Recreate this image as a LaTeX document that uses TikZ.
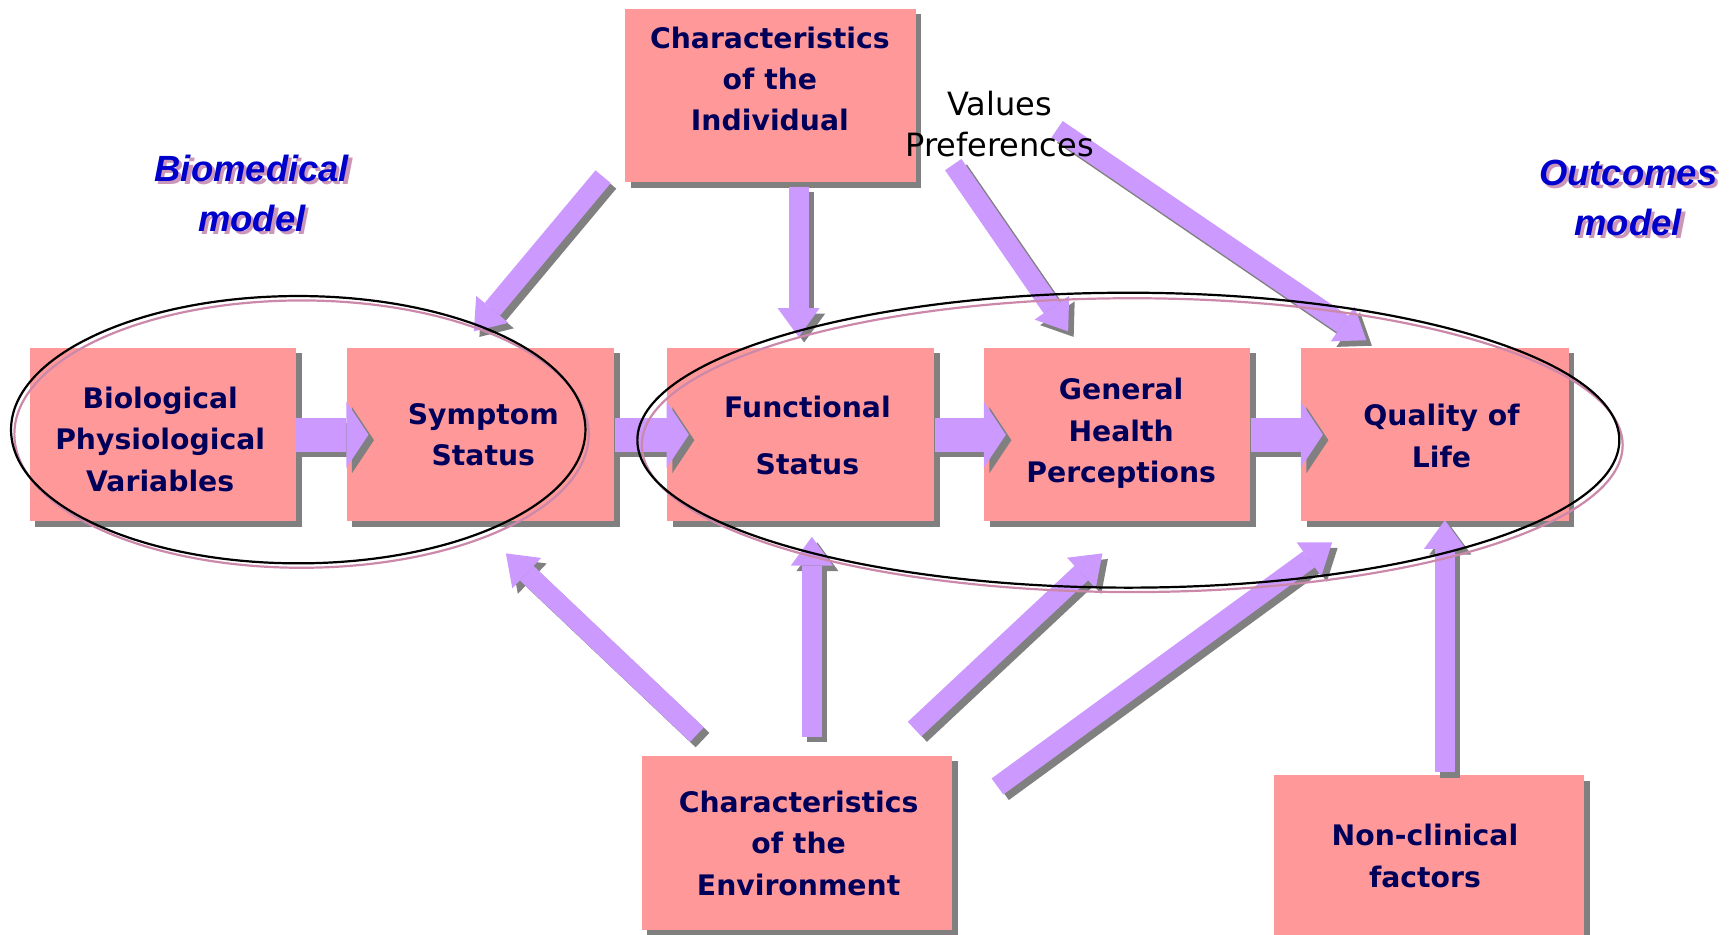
\documentclass[tikz,border=0pt]{standalone}
\usepackage{fontspec}
\setmainfont{DejaVu Sans}
\newfontfamily\arialfont{Liberation Sans}
\usetikzlibrary{arrows.meta,shadows,calc}
\definecolor{boxpink}{RGB}{255,153,153}
\definecolor{shadowgray}{RGB}{128,128,128}
\definecolor{arrowpurple}{RGB}{204,153,255}
\definecolor{navy}{RGB}{0,0,90}
\definecolor{modelblue}{RGB}{0,0,204}
\definecolor{modelshadow}{RGB}{204,150,185}
\definecolor{ellpink}{RGB}{204,136,170}
\tikzset{
  box/.style={fill=boxpink, draw=none, inner sep=0pt,
    drop shadow={shadow xshift=2.5pt, shadow yshift=-2.5pt, fill=shadowgray, opacity=1}},
  boxtext/.style={text=navy, font=\bfseries\fontsize{12.8}{18.75}\selectfont, align=center, inner sep=0pt},
  diagarrow/.style={line width=9pt, arrowpurple, -{Triangle[length=13pt,width=19pt,line width=0pt]}},
  hzarrow/.style={line width=15.5pt, arrowpurple, -{Triangle[length=10pt,width=30pt,line width=0pt]}},
  modeltext/.style={font=\arialfont\bfseries\itshape\fontsize{16.5}{22.5}\selectfont, align=center, inner sep=0pt},
}
\newcommand\myblockarrow[3]{%
  \begin{scope}[transform canvas={xshift=2.5pt,yshift=-2.5pt}]
    \draw[#1, shadowgray] (#2) -- (#3);
  \end{scope}
  \draw[#1] (#2) -- (#3);}
\begin{document}
\begin{tikzpicture}[x=0.5pt,y=-0.5pt]
\useasboundingbox (0,0) rectangle (1568,846);
\clip (0,0) rectangle (1568,846);

% boxes
\node[box, minimum width=131.5pt, minimum height=78.5pt] (ind) at (697.5,86.5) {};
\node[box, minimum width=120.5pt, minimum height=78.5pt] (bio) at (147.5,393.5) {};
\node[box, minimum width=121pt, minimum height=78.5pt] (sym) at (435,393.5) {};
\node[box, minimum width=121pt, minimum height=78.5pt] (fun) at (725,393.5) {};
\node[box, minimum width=120.5pt, minimum height=78.5pt] (gen) at (1011.5,393.5) {};
\node[box, minimum width=121pt, minimum height=78.5pt] (qol) at (1299,393.5) {};
\node[box, minimum width=140.5pt, minimum height=79pt] (env) at (721.5,763) {};
\node[box, minimum width=140.5pt, minimum height=80pt] (non) at (1293.5,782) {};

% arrow end points
\coordinate (Atail) at (546,160);  \coordinate (Atip) at (429,300);
\coordinate (Btail) at (723,169);  \coordinate (Btip) at (723,305);
\coordinate (Ctail) at (863,149);  \coordinate (Ctip) at (967,300);
\coordinate (Dtail) at (957,117);  \coordinate (Dtip) at (1237,308);
\coordinate (Etail) at (631,665);  \coordinate (Etip) at (458,501);
\coordinate (Ftail) at (735,667);  \coordinate (Ftip) at (735,486);
\coordinate (Gtail) at (828,660);  \coordinate (Gtip) at (998,501);
\coordinate (Htail) at (903,712);  \coordinate (Htip) at (1206,491);
\coordinate (Itail) at (1308,699); \coordinate (Itip) at (1308,471);
\coordinate (h1) at ($(sym.west)+(20,0)$);
\coordinate (h2) at ($(fun.west)+(20,0)$);
\coordinate (h3) at ($(gen.west)+(20,0)$);
\coordinate (h4) at ($(qol.west)+(20,0)$);

% horizontal arrows
\myblockarrow{hzarrow}{bio.east}{h1}
\myblockarrow{hzarrow}{sym.east}{h2}
\myblockarrow{hzarrow}{fun.east}{h3}
\myblockarrow{hzarrow}{gen.east}{h4}

% other arrows
\myblockarrow{diagarrow}{Atail}{Atip}
\myblockarrow{diagarrow}{Btail}{Btip}
\myblockarrow{diagarrow}{Ctail}{Ctip}
\myblockarrow{diagarrow}{Dtail}{Dtip}
\myblockarrow{diagarrow}{Etail}{Etip}
\myblockarrow{diagarrow}{Ftail}{Ftip}
\myblockarrow{diagarrow}{Gtail}{Gtip}
\myblockarrow{diagarrow}{Htail}{Htip}
\myblockarrow{diagarrow}{Itail}{Itip}

% box texts
\node[boxtext] (indt) at (697,71.5) {Characteristics\\of the\\Individual};
\node[boxtext] (biot) at (145,397.5) {Biological\\Physiological\\Variables};
\node[boxtext] (symt) at (437.5,393.5) {Symptom\\Status};
\node[boxtext] (funt) at (731,394) {Functional\\[7pt]Status};
\node[boxtext] (gent) at (1015,392.5) {General\\Health\\Perceptions};
\node[boxtext] (qolt) at (1305,394.5) {Quality of\\Life};
\node[boxtext] (envt) at (723,763.5) {Characteristics\\of the\\Environment};
\node[boxtext] (nont) at (1290,775) {Non-clinical\\factors};

% values
\node[font=\fontsize{14.5}{18.75}\selectfont, align=center, inner sep=0pt] (vp) at (905,112.5) {Values\\Preferences};

% model labels
\node[modeltext, text=modelshadow] (bms) at (231,178) {Biomedical\\model};
\node[modeltext, text=modelblue] (bm) at (228,175) {Biomedical\\model};
\node[modeltext, text=modelshadow] (oms) at (1477,182) {Outcomes\\model};
\node[modeltext, text=modelblue] (om) at (1474,179) {Outcomes\\model};

% ellipses
\draw[ellpink, line width=1pt] (273,393) ellipse [x radius=260, y radius=121];
\draw[black, line width=1pt] (270,389) ellipse [x radius=260, y radius=121];
\draw[ellpink, line width=1pt] (1025,403) ellipse [x radius=444, y radius=133];
\draw[black, line width=1pt] (1021.5,398.5) ellipse [x radius=444.5, y radius=133.5];
\end{tikzpicture}
\end{document}
